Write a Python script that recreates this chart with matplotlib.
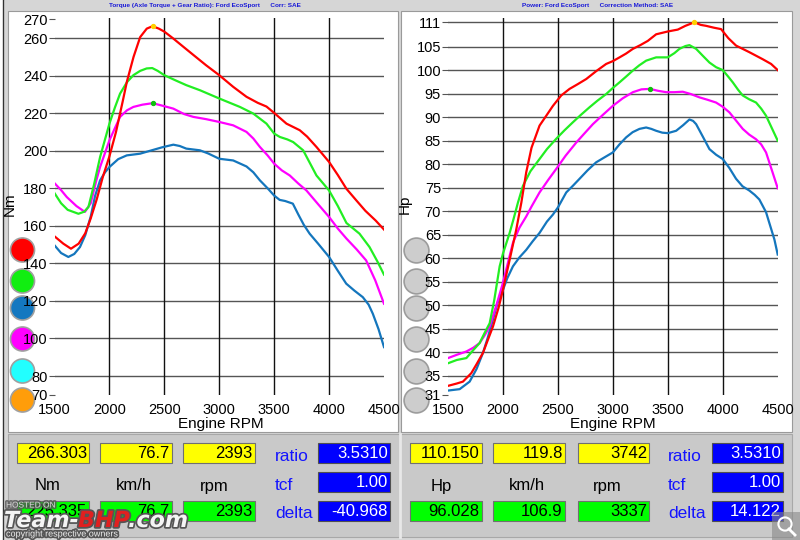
import matplotlib
matplotlib.use("Agg")
import matplotlib.pyplot as plt
import matplotlib.patheffects as pe
from matplotlib.patches import Rectangle

plt.rcParams['font.family'] = ['Liberation Sans', 'DejaVu Sans']

# ---- torque curves (rpm, Nm) ----
tq_red_rpm = [1500, 1580, 1650, 1720, 1780, 1830, 1884, 1940, 2000, 2060, 2120, 2160, 2220, 2280, 2340,
              2393, 2450, 2500, 2580, 2680, 2764, 2880, 3000, 3127, 3248, 3350, 3430, 3500, 3612, 3733,
              3800, 3885, 4000, 4080, 4158, 4247, 4330, 4424, 4500]
tq_red = [154.4, 150.5, 147.8, 150.5, 156, 164, 174, 186, 197, 210, 226, 237, 250, 260.5, 265,
          266.3, 265, 263.4, 259.8, 255, 251, 245.5, 240.2, 234, 228.7, 225.5, 223.5, 220.1, 214.4, 210.9,
          207.5, 202, 194, 187, 179.7, 173.6, 168, 162.8, 158]

tq_green_rpm = [1500, 1560, 1620, 1718, 1770, 1809, 1860, 1915, 1960, 2000, 2050, 2097, 2160, 2218, 2280,
                2339, 2390, 2440, 2500, 2600, 2700, 2824, 3000, 3188, 3309, 3430, 3500, 3552, 3620, 3673,
                3764, 3820, 3885, 4000, 4080, 4158, 4277, 4368, 4440, 4500]
tq_green = [177.4, 172, 168.5, 166.4, 167.5, 170, 182, 196.6, 206, 214.4, 223, 230.4, 236.5, 240.2, 242.5,
            243.8, 244, 242.5, 240.2, 237.5, 234.9, 232.2, 227.8, 223.3, 219.8, 214.4, 209.1, 207.3, 206, 204.6,
            200.2, 194, 186.8, 178.8, 170.5, 161.5, 155.8, 148.7, 141, 134]

tq_blue_rpm = [1500, 1560, 1626, 1680, 1732, 1780, 1830, 1870, 1915, 1960, 2000, 2080, 2158, 2279, 2385,
               2480, 2582, 2640, 2700, 2824, 2900, 3000, 3127, 3248, 3310, 3370, 3440, 3500, 3550, 3600,
               3670, 3720, 3770, 3823, 3900, 4000, 4080, 4156, 4230, 4307, 4360, 4398, 4450, 4500]
tq_blue = [149.6, 145.5, 143.4, 145, 148.7, 155, 165, 176, 184.2, 188.5, 191.3, 195.5, 197.5, 198.4, 200.2,
           201.8, 203.2, 202.5, 201.1, 200.2, 198.5, 195.7, 194.8, 191.6, 188.5, 184.2, 180, 176.1, 173.8, 173.2,
           171.8, 166, 160.5, 155.8, 150.5, 143.4, 136, 129.2, 125.5, 122, 118, 113.2, 105, 95.4]

tq_mag_rpm = [1500, 1560, 1612, 1700, 1777, 1830, 1880, 1915, 2000, 2050, 2097, 2160, 2218, 2300, 2393,
              2480, 2582, 2680, 2764, 2880, 3000, 3127, 3248, 3310, 3370, 3440, 3500, 3570, 3642, 3720,
              3794, 3900, 4000, 4080, 4158, 4250, 4337, 4420, 4500]
tq_mag = [182.7, 179, 175.3, 170.5, 167.4, 172, 184, 191.3, 205.5, 212, 218, 221.5, 223.3, 224.5, 225.3,
          224, 222.4, 219.5, 218, 216.8, 215.3, 213.5, 210, 206.5, 202, 197.5, 193.1, 189.5, 186.8, 182.5,
          178.8, 171.5, 164.7, 158.5, 153.2, 147.5, 141.6, 131, 118.5]

# ---- power curves (rpm, Hp) ----
pw_red_rpm = [1500, 1580, 1636, 1712, 1760, 1818, 1860, 1909, 1960, 2000, 2061, 2121, 2167, 2212, 2260,
              2333, 2400, 2455, 2530, 2606, 2680, 2758, 2850, 2939, 3000, 3061, 3120, 3182, 3250, 3318,
              3394, 3500, 3591, 3660, 3742, 3800, 3848, 3920, 3985, 4050, 4121, 4242, 4364, 4440, 4500]
pw_red = [32.9, 33.4, 33.8, 35.6, 37.5, 39.9, 42.5, 45.5, 49.5, 53.3, 59.7, 66.1, 71.8, 78.3, 83.5,
          88.2, 90.5, 92.4, 94.6, 96.0, 97.0, 98.1, 99.8, 101.3, 101.9, 102.7, 103.5, 104.5, 105.3, 106.2,
          107.6, 108.2, 108.6, 109.4, 110.15, 109.6, 109.4, 109.0, 108.7, 106.8, 105.2, 103.8, 102.3, 101.3, 100]

pw_green_rpm = [1500, 1580, 1667, 1730, 1788, 1830, 1879, 1920, 1970, 2000, 2061, 2097, 2136, 2182, 2250,
                2333, 2400, 2485, 2560, 2636, 2710, 2788, 2860, 2939, 3000, 3061, 3120, 3182, 3240, 3303,
                3394, 3500, 3560, 3606, 3660, 3697, 3758, 3820, 3879, 3940, 4000, 4050, 4091, 4140, 4182,
                4240, 4303, 4350, 4394, 4450, 4500]
pw_green = [37.7, 38.4, 38.8, 40.5, 42, 44, 46.2, 51, 58.3, 61, 65.4, 68.4, 71.8, 75.4, 78.5,
            81.1, 83.2, 85.4, 87.2, 88.9, 90.5, 92.1, 93.5, 94.9, 96.2, 97.4, 98.6, 99.9, 101, 102,
            102.7, 102.7, 103.6, 104.5, 105.1, 105.3, 104.5, 103, 101.6, 100.6, 100, 98.6, 97.4, 95.8, 94.6,
            93.8, 93.1, 91.8, 90.3, 87.5, 85]

pw_blue_rpm = [1500, 1606, 1697, 1760, 1818, 1860, 1909, 1950, 2000, 2040, 2091, 2150, 2212, 2270, 2333,
               2400, 2455, 2500, 2576, 2640, 2697, 2770, 2848, 2920, 3000, 3060, 3121, 3180, 3242, 3303,
               3350, 3394, 3450, 3500, 3576, 3640, 3697, 3730, 3758, 3820, 3879, 3940, 4000, 4060, 4121,
               4180, 4242, 4290, 4333, 4394, 4424, 4470, 4500]
pw_blue = [31.9, 32.2, 33.8, 36.5, 39.9, 43, 47, 50.5, 53.3, 55.8, 58.3, 60.2, 61.8, 63.6, 65.4,
           67.8, 69.3, 70.8, 74.0, 75.5, 76.9, 78.7, 80.4, 81.4, 82.5, 84.2, 85.7, 86.8, 87.5, 87.8,
           87.5, 87.1, 86.7, 86.6, 87.1, 88.3, 89.5, 89.2, 88.5, 85.8, 83.2, 82, 81.1, 79.2, 76.9,
           75.3, 74.4, 73.5, 72.5, 69.8, 67.5, 64, 60.8]

pw_mag_rpm = [1500, 1580, 1667, 1730, 1788, 1830, 1879, 1940, 2000, 2050, 2091, 2150, 2212, 2260, 2333,
              2410, 2485, 2570, 2667, 2740, 2818, 2910, 3000, 3090, 3182, 3260, 3337, 3410, 3485, 3560,
              3636, 3710, 3788, 3860, 3939, 4000, 4061, 4120, 4182, 4240, 4303, 4350, 4394, 4450, 4500]
pw_mag = [38.8, 39.5, 40.2, 41, 42, 43.5, 45.5, 50, 54.8, 59.5, 63.3, 66.5, 68.9, 71, 74,
          76.6, 79, 81.8, 84.6, 86.5, 88.5, 90.5, 92.4, 94, 95.3, 95.9, 96.0, 95.6, 95.3, 95.3,
          95.4, 94.9, 94.2, 93.7, 93.1, 92.2, 91.0, 89.3, 87.5, 86.3, 85.3, 84.2, 82.5, 78.5, 74.9]

# peak markers
tq_peak = (2393, 266.303)
tq_cur = (2393, 225.335)
pw_peak = (3742, 110.150)
pw_cur = (3337, 96.028)

# ticks
rpm_ticks = [1500, 2000, 2500, 3000, 3500, 4000, 4500]
tq_ticks = [70, 80, 100, 120, 140, 160, 180, 200, 220, 240, 260, 270]
pw_ticks = [31, 35, 40, 45, 50, 55, 60, 65, 70, 75, 80, 85, 90, 95, 100, 105, 110.15]
pw_tick_labels = ['31', '35', '40', '45', '50', '55', '60', '65', '70', '75', '80', '85', '90', '95',
                  '100', '105', '111']

# readout boxes
tq_peak_vals = ['266.303', '76.7', '2393']
tq_cur_vals = ['225.335', '76.7', '2393']
tq_units = ['Nm', 'km/h', 'rpm']
pw_peak_vals = ['110.150', '119.8', '3742']
pw_cur_vals = ['96.028', '106.9', '3337']
pw_units = ['Hp', 'km/h', 'rpm']
param_names = ['ratio', 'tcf', 'delta']
tq_params = ['3.5310', '1.00', '-40.968']
pw_params = ['3.5310', '1.00', '14.122']

RED = '#ff0000'
GREEN = '#22ee22'
BLUE = '#1476bd'
MAG = '#ff00ff'

fig = plt.figure(figsize=(8, 5.4), dpi=100, facecolor='#d6d6d6')

# background / chrome in pixel coordinates
bg = fig.add_axes([0, 0, 1, 1], zorder=0)
bg.set_xlim(0, 800)
bg.set_ylim(540, 0)
bg.axis('off')
bg.add_patch(Rectangle((0, 0), 3, 540, color='white'))
bg.plot([2.5, 2.5], [0, 540], color='#333333', lw=1)
bg.add_patch(Rectangle((8, 11), 390, 421, facecolor='white', edgecolor='#9a9a9a', lw=0.8))
bg.add_patch(Rectangle((401, 11), 391, 421, facecolor='white', edgecolor='#9a9a9a', lw=0.8))
bg.add_patch(Rectangle((8, 434), 784, 103, facecolor='#c9c9c9', edgecolor='#a8a8a8', lw=0.8))
bg.plot([399.5, 399.5], [434, 537], color='#e8e8e8', lw=2)

bg.text(205, 6, 'Torque (Axle Torque + Gear Ratio): Ford EcoSport      Corr: SAE',
        ha='center', va='center', fontsize=4.6, color='#1a1ad8', fontweight='bold')
bg.text(598, 6, 'Power: Ford EcoSport      Correction Method: SAE',
        ha='center', va='center', fontsize=4.6, color='#1a1ad8', fontweight='bold')

# selector buttons
btn_y = [250, 281, 308, 339, 371, 400]
btn_colors = [RED, '#11ee11', '#1478c0', MAG, '#22ffff', '#ff9d0a']
bg.scatter([22.5] * len(btn_y), btn_y, s=300, c=btn_colors, edgecolors='#a0a0a0', linewidths=1.2, zorder=3)
bg.scatter([416] * len(btn_y), btn_y, s=320, c='#cdcdcd', edgecolors='#9c9c9c', linewidths=1.2, zorder=3)

# readout panels
box_x_left = [17.3, 100, 183.3]
box_x_right = [410, 493.3, 577.7]
box_w = 71.5
unit_x_left = [48, 134, 214]
unit_x_right = [441, 527, 607]
row_y = [443.3, 472.3, 501]
row_h = 20


def readout(xs, peak_vals, cur_vals, units, unit_xs, text_x, blue_x, params):
    for x, pv, cv in zip(xs, peak_vals, cur_vals):
        bg.add_patch(Rectangle((x, row_y[0]), box_w, row_h, facecolor='#ffff00', edgecolor='#707070', lw=0.8))
        bg.text(x + box_w - 2, row_y[0] + row_h / 2 + 0.5, pv, ha='right', va='center', fontsize=12)
        bg.add_patch(Rectangle((x, row_y[2]), box_w, row_h, facecolor='#00ff00', edgecolor='#707070', lw=0.8))
        bg.text(x + box_w - 2, row_y[2] + row_h / 2 + 0.5, cv, ha='right', va='center', fontsize=12)
    for ux, u in zip(unit_xs, units):
        bg.text(ux, 486, u, ha='center', va='center', fontsize=12)
    for ry, name, val in zip(row_y, param_names, params):
        bg.text(text_x, ry + row_h / 2 + 3, name, ha='left', va='center', fontsize=12.5, color='#1414ff')
        bg.add_patch(Rectangle((blue_x, ry), 71.5, row_h, facecolor='#0000ff', edgecolor='#505050', lw=0.8))
        bg.text(blue_x + 69.5, ry + row_h / 2 + 0.5, val, ha='right', va='center', fontsize=12, color='white')


readout(box_x_left, tq_peak_vals, tq_cur_vals, tq_units, unit_x_left, 275, 318.3, tq_params)
readout(box_x_right, pw_peak_vals, pw_cur_vals, pw_units, unit_x_right, 668, 711.7, pw_params)

# watermark
wm_fx = [pe.withStroke(linewidth=2.5, foreground='#555555')]
bg.text(6, 506, 'HOSTED ON', fontsize=6, color='#f0f0f0', va='center', alpha=0.8, path_effects=wm_fx, zorder=5)
bg.text(4, 521, 'Team-', fontsize=16, fontweight='bold', fontstyle='italic', color='#f4f4f4',
        va='center', family='DejaVu Sans', path_effects=wm_fx, zorder=5)
bg.text(78, 521, 'BHP', fontsize=16, fontweight='bold', fontstyle='italic', color='#e02020',
        va='center', family='DejaVu Sans', path_effects=wm_fx, zorder=5)
bg.text(128, 521, '.com', fontsize=16, fontweight='bold', fontstyle='italic', color='#f4f4f4',
        va='center', family='DejaVu Sans', path_effects=wm_fx, zorder=5)
bg.text(6, 534, 'copyright respective owners', fontsize=6.5, color='#eeeeee', va='center',
        path_effects=wm_fx, zorder=5)

# zoom icon
bg.add_patch(Rectangle((772, 512), 28, 28, facecolor='#888888', alpha=0.6, zorder=5))
bg.scatter([785], [524], s=90, facecolors='none', edgecolors='white', linewidths=1.5, zorder=6)
bg.plot([789, 795], [529, 535], color='white', lw=2, zorder=6)


def setup(ax, yticks, ylabels, grid_vals, ylabel, ylab_x, xlab_x):
    ax.set_facecolor('none')
    for s in ax.spines.values():
        s.set_visible(False)
    ax.set_xlim(1500, 4500)
    ax.set_xticks(rpm_ticks)
    ax.set_xticklabels([str(t) for t in rpm_ticks])
    ax.set_yticks(yticks)
    ax.set_yticklabels(ylabels)
    ax.tick_params(axis='y', direction='out', length=4, width=0.8, color='#555555', pad=1, labelsize=10.5)
    ax.tick_params(axis='x', direction='in', length=0, pad=6, labelsize=10.5)
    for g in grid_vals:
        ax.axhline(g, color='#555555', lw=1.0, zorder=1)
    for t in rpm_ticks[1:-1]:
        ax.axvline(t, color='#111111', lw=1.0, zorder=1)
    ax.set_ylabel(ylabel, fontsize=11)
    ax.yaxis.set_label_coords(ylab_x, 0.505)
    ax.set_xlabel('Engine RPM', fontsize=11)
    ax.xaxis.set_label_coords(xlab_x, -0.06)


ax1 = fig.add_axes([54.5 / 800, 1 - 394.8 / 540, 329.5 / 800, 376.5 / 540], zorder=2)
ax1.set_ylim(70, 270.5)
setup(ax1, tq_ticks, [str(t) for t in tq_ticks], tq_ticks[1:-1], 'Nm', -0.114, 0.505)
ax1.plot(tq_blue_rpm, tq_blue, color=BLUE, lw=1.6, zorder=3)
ax1.plot(tq_mag_rpm, tq_mag, color=MAG, lw=1.6, zorder=3)
ax1.plot(tq_green_rpm, tq_green, color=GREEN, lw=1.6, zorder=3)
ax1.plot(tq_red_rpm, tq_red, color=RED, lw=1.6, zorder=3)
ax1.scatter(*tq_peak, s=8, color='#ffd000', zorder=4)
ax1.scatter(*tq_cur, s=8, color='#10c010', zorder=4)

ax2 = fig.add_axes([448 / 800, 1 - 394.8 / 540, 329.7 / 800, 376.5 / 540], zorder=2)
ax2.set_ylim(31, 111)
setup(ax2, pw_ticks, pw_tick_labels, pw_ticks[1:], 'Hp', -0.109, 0.4995)
ax2.plot(pw_blue_rpm, pw_blue, color=BLUE, lw=1.6, zorder=3)
ax2.plot(pw_mag_rpm, pw_mag, color=MAG, lw=1.6, zorder=3)
ax2.plot(pw_green_rpm, pw_green, color=GREEN, lw=1.6, zorder=3)
ax2.plot(pw_red_rpm, pw_red, color=RED, lw=1.6, zorder=3)
ax2.scatter(*pw_peak, s=8, color='#ffd000', zorder=4)
ax2.scatter(*pw_cur, s=8, color='#10c010', zorder=4)

fig.savefig('out.png', dpi=100, facecolor=fig.get_facecolor())
